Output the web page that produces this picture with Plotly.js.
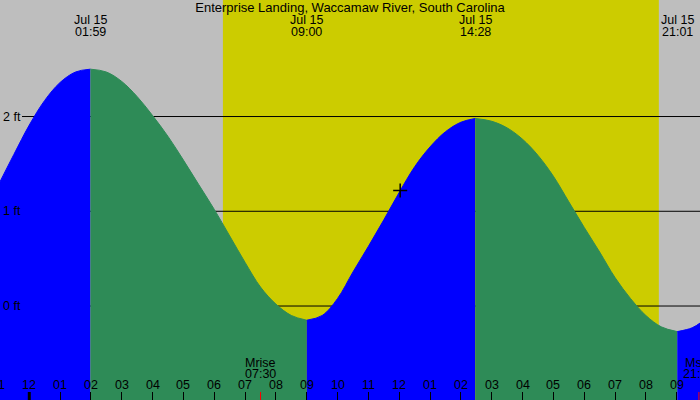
<!DOCTYPE html>
<html>
<head>
<meta charset="utf-8">
<script src="https://cdn.plot.ly/plotly-3.0.1.min.js"></script>
<style>html,body{margin:0;padding:0;background:#BEBEBE;overflow:hidden;}#chart{width:700px;height:400px;}</style>
</head>
<body>
<div id="chart"></div>
<script>
// ---- data (hours after midnight Jul 15, water level in ft) ----
const hours   = [-1.0, -0.5, 0.0, 0.5, 1.0, 1.5, 1.983, 2.5, 3.0, 3.5, 4.0, 4.5, 5.0, 5.5, 6.0, 6.5, 7.0, 7.5, 8.0, 8.5, 9.0,
                 9.5, 10.0, 10.5, 11.0, 11.5, 12.0, 12.5, 13.0, 13.5, 14.0, 14.467,
                 15.0, 15.5, 16.0, 16.5, 17.0, 17.5, 18.0, 18.5, 19.0, 19.5, 20.0, 20.5, 21.017, 21.5, 21.8];
const heights = [1.28, 1.60, 1.91, 2.17, 2.36, 2.47, 2.50, 2.47, 2.37, 2.21, 2.01, 1.79, 1.54, 1.28, 1.02, 0.74, 0.46, 0.20, 0.02, -0.10, -0.15,
                 -0.10, 0.08, 0.36, 0.63, 0.91, 1.20, 1.47, 1.68, 1.84, 1.94, 1.98,
                 1.95, 1.88, 1.76, 1.59, 1.37, 1.10, 0.83, 0.57, 0.30, 0.08, -0.10, -0.22, -0.27, -0.23, -0.17];

const extremeHours = [1.983, 9.0, 14.467, 21.017];
const extremeTimes = ['01:59', '09:00', '14:28', '21:01'];
const extremeDate  = 'Jul 15';

const tickHours  = [-1, 0, 1, 2, 3, 4, 5, 6, 7, 8, 9, 10, 11, 12, 13, 14, 15, 16, 17, 18, 19, 20, 21];
const tickLabels = ['11','12','01','02','03','04','05','06','07','08','09','10','11','12','01','02','03','04','05','06','07','08','09'];

const sunriseHour = 6.28, sunsetHour = 20.42;
const moonHours = [7.5, 21.72];
const moonNames = ['Mrise', 'Mset'];
const moonTimes = ['07:30', '21:43'];

const levelFt     = [0, 1, 2];
const levelLabels = ['0 ft', '1 ft', '2 ft'];

const nowHour = 12.03, nowLevel = 1.22;
const titleText = 'Enterprise Landing, Waccamaw River, South Carolina';

// ---- build ----
const FONT = 'Liberation Sans, Arial, sans-serif';
const X_RANGE = [-0.950, 21.755];
const Y_RANGE = [-0.992, 3.23];
const BASE = -2;
const PX_PER_HOUR = 700 / (X_RANGE[1] - X_RANGE[0]);

const segs = [];
let cur = {x: [], y: []};
hours.forEach((h, i) => {
  cur.x.push(h); cur.y.push(heights[i]);
  if (extremeHours.includes(h)) { segs.push(cur); cur = {x: [h], y: [heights[i]]}; }
});
if (cur.x.length > 1) segs.push(cur);

const traces = [];
segs.forEach(s => {
  const rising = s.y[s.y.length - 1] > s.y[0];
  const col = rising ? '#0000FF' : '#2E8B57';
  traces.push({x: [s.x[0], s.x[s.x.length - 1]], y: [BASE, BASE], mode: 'lines',
               line: {width: 0}, hoverinfo: 'skip', showlegend: false});
  traces.push({x: s.x, y: s.y, mode: 'lines', line: {shape: 'spline', width: 1, color: col},
               fill: 'tonexty', fillcolor: col, showlegend: false});
});
traces.push({x: [nowHour], y: [nowLevel], mode: 'markers', showlegend: false,
             marker: {symbol: 'cross-thin', size: 10, line: {color: '#000', width: 1.5}}});

const shapes = [];
shapes.push({type: 'rect', layer: 'below', xref: 'x', yref: 'paper', x0: sunriseHour, x1: sunsetHour, y0: 0, y1: 1,
             fillcolor: '#CCCC00', line: {width: 0}});
levelFt.forEach(v => shapes.push({type: 'line', layer: 'below', xref: 'paper', yref: 'y', x0: 22/700, x1: 1, y0: v, y1: v,
             line: {color: '#000', width: 1}}));
shapes.push({type: 'line', xref: 'x', yref: 'paper', x0: 0, x1: 0, y0: 0, y1: 0.02, line: {color: '#000', width: 3}});
moonHours.forEach(h => shapes.push({type: 'line', xref: 'x', yref: 'paper', x0: h, x1: h, y0: 0, y1: 0.02,
             line: {color: '#FF0000', width: 1}}));

const ann = [];
const SMALL = 12.5;
const base = {showarrow: false, borderpad: 0, font: {size: SMALL, color: '#000', family: FONT}};
function xPos(h) { // keep annotations whose anchor lies just off the axis, shifting them by pixels instead
  return h < X_RANGE[0] ? {x: X_RANGE[0], xshift: (h - X_RANGE[0]) * PX_PER_HOUR} : {x: h, xshift: 0};
}
tickHours.forEach((h, i) => ann.push(Object.assign({}, base, xPos(h), {xref: 'x', y: 0, yref: 'paper',
             yanchor: 'middle', xanchor: 'center', yshift: 15.5, text: tickLabels[i]})));
extremeHours.forEach((h, i) => {
  ann.push(Object.assign({}, base, {x: h, xref: 'x', y: 1, yref: 'paper', yanchor: 'middle', xanchor: 'center', yshift: -19.5, text: extremeDate}));
  ann.push(Object.assign({}, base, {x: h, xref: 'x', y: 1, yref: 'paper', yanchor: 'middle', xanchor: 'center', yshift: -31.5, text: extremeTimes[i]}));
});
moonHours.forEach((h, i) => {
  ann.push(Object.assign({}, base, {x: h, xref: 'x', y: 0, yref: 'paper', yanchor: 'middle', xanchor: 'center', yshift: 37.5, text: moonNames[i]}));
  ann.push(Object.assign({}, base, {x: h, xref: 'x', y: 0, yref: 'paper', yanchor: 'middle', xanchor: 'center', yshift: 26.5, text: moonTimes[i]}));
});
levelFt.forEach((v, i) => ann.push(Object.assign({}, base, {x: 0, xref: 'paper', y: v, yref: 'y',
             xanchor: 'left', yanchor: 'middle', xshift: 2, text: levelLabels[i]})));

const layout = {
  width: 700, height: 400,
  margin: {l: 0, r: 0, t: 0, b: 0, pad: 0},
  paper_bgcolor: '#BEBEBE', plot_bgcolor: '#BEBEBE',
  title: {text: titleText, font: {size: 13, color: '#000', family: FONT},
          x: 0.5, xanchor: 'center', xref: 'paper', y: 1 - 7.5/400, yanchor: 'middle', yref: 'container'},
  xaxis: {range: X_RANGE, showgrid: false, zeroline: false, showline: false, showticklabels: false,
          tickmode: 'array', tickvals: tickHours, ticks: 'inside', ticklen: 8, tickwidth: 1, tickcolor: '#000', fixedrange: true},
  yaxis: {range: Y_RANGE, showgrid: false, zeroline: false, showline: false, showticklabels: false, fixedrange: true},
  shapes: shapes, annotations: ann, showlegend: false, hovermode: false
};
Plotly.newPlot('chart', traces, layout, {displayModeBar: false, staticPlot: true});
</script>
</body>
</html>
